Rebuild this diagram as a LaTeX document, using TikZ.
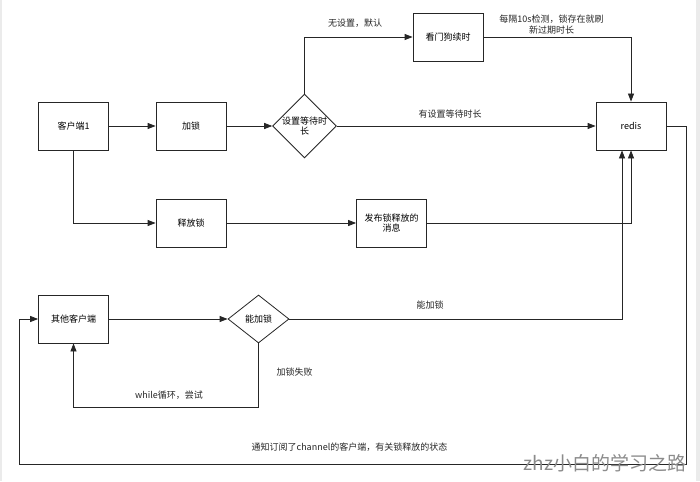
\documentclass[tikz,border=0pt]{standalone}
\usepackage{fontspec}
\setmainfont{Noto Sans CJK SC}
\usetikzlibrary{shapes.geometric,arrows.meta}
\begin{document}
\begin{tikzpicture}[x=1pt,y=-1pt,
  line width=0.8pt,
  box/.style={draw=black!85,fill=white,minimum width=70pt,minimum height=48pt,inner sep=1pt,font=\fontsize{9}{10.5}\selectfont,align=center},
  dia/.style={draw=black!85,fill=white,diamond,minimum width=61pt,minimum height=48pt,inner sep=0pt,font=\fontsize{9}{10.5}\selectfont,align=center},
  arr/.style={draw=black!85,-{Triangle[length=8pt,width=6pt]}},
  lbl/.style={font=\fontsize{9}{11}\selectfont,text=black!85,inner sep=0pt,align=center}]
\useasboundingbox (0,0) rectangle (700,481);
\fill[white] (0,0) rectangle (700,481);
\fill[black!8] (0,0) rectangle (2,481);
\fill[black!8] (696,0) rectangle (700,481);

\node[box] (c1) at (73.5,126) {客户端1};
\node[box] (lock) at (191,126) {加锁};
\node[dia] (d1) at (304.5,126) {设置等待时\\长};
\node[box] (wd) at (448,37) {看门狗续时};
\node[box] (redis) at (631,126) {redis};
\node[box] (rel) at (191,223) {释放锁};
\node[box] (pub) at (391.5,223) {发布锁释放的\\消息};
\node[box] (oc) at (73.5,319) {其他客户端};
\node[dia] (d2) at (258.5,319) {能加锁};

\draw[arr] (c1) -- (lock);
\draw[arr] (lock) -- (d1);
\draw[arr] (d1.north) |- (wd.west);
\draw[arr] (wd.east) -| (redis.north);
\draw[arr] (d1.east) -- (redis.west);
\draw[arr] (c1.south) |- (rel.west);
\draw[arr] (rel) -- (pub);
\draw[arr] (pub.east) -| (redis.south);
\draw[arr] (oc) -- (d2);
\draw[arr] (d2.east) -| ([xshift=-9pt]redis.south);
\coordinate (lp) at (258.5,407);
\draw[arr] (d2.south) -- (lp) -| (oc.south);
\coordinate (r1) at (686,126);
\coordinate (r2) at (686,464);
\coordinate (r3) at (19,464);
\draw[arr] (redis.east) -- (r1) -- (r2) -- (r3) |- (oc.west);

\node[lbl] (t1) at (355,23) {无设置，默认};
\node[lbl] (t2) at (551.5,24.5) {每隔10s检测，锁存在就刷\\新过期时长};
\node[lbl] (t3) at (450,114) {有设置等待时长};
\node[lbl] (t4) at (430,305) {能加锁};
\node[lbl] (t5) at (294.5,372) {加锁失败};
\node[lbl] (t6) at (169,395.5) {while循环，尝试};
\node[lbl] (t7) at (349.5,447.5) {通知订阅了channel的客户端，有关锁释放的状态};
\node[font=\fontsize{19}{21}\selectfont,text=black!45,inner sep=0pt] (wm) at (605,463) {zhz小白的学习之路};
\end{tikzpicture}
\end{document}
